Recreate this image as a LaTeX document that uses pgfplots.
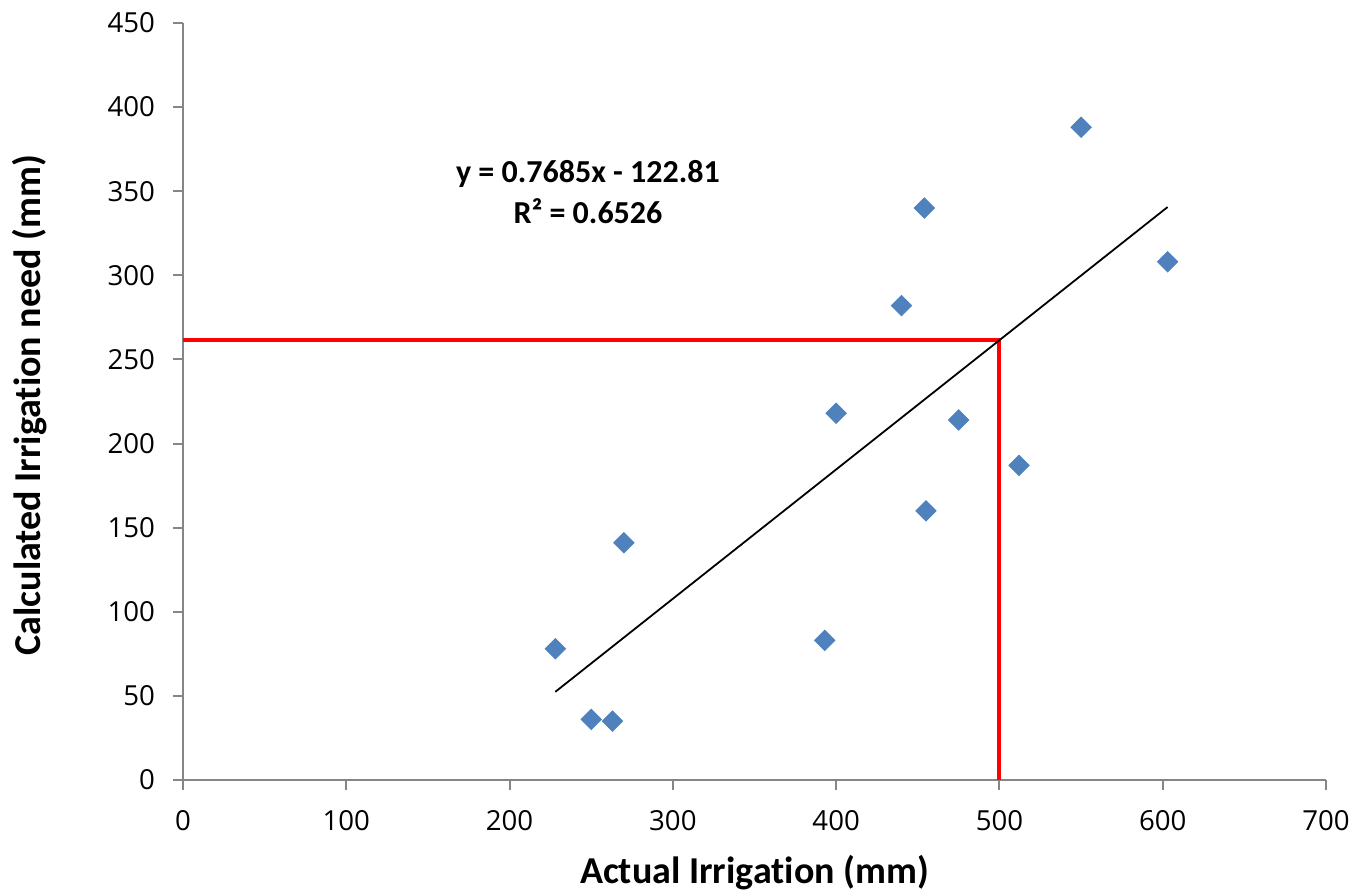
\documentclass[border=0pt]{standalone}
\usepackage{fontspec}
\setmainfont[Ligatures=NoCommon]{Carlito}
\newfontfamily\tickfont{Open Sans}
\usepackage{pgfplots}
\pgfplotsset{compat=1.18}
\definecolor{axgray}{RGB}{134,134,134}
\definecolor{mblue}{RGB}{79,129,189}
\begin{document}
\begin{tikzpicture}
\begin{axis}[
  at={(0,0)}, anchor=south west,
  scale only axis,
  width=571.5pt, height=378.5pt,
  xmin=0, xmax=700, ymin=0, ymax=450,
  xtick={0,100,...,700}, ytick={0,50,...,450},
  axis x line*=bottom, axis y line*=left,
  axis line style={axgray, line width=1pt, -},
  tick style={axgray, line width=1pt},
  major tick length=5pt, tick align=outside,
  tick label style={font=\fontsize{13.8}{16}\tickfont},
  xticklabel style={yshift=-6.5pt},
  yticklabel style={xshift=-5.5pt},
  /pgf/number format/assume math mode=true,
  xlabel={\bfseries Actual Irrigation (mm)},
  ylabel={\bfseries Calculated Irrigation need (mm)},
  label style={font=\fontsize{19}{22}\selectfont},
  xlabel style={at={(axis description cs:0.5,-0.123)}, anchor=center},
  ylabel style={at={(axis description cs:-0.134,0.495)}, anchor=center, rotate=0},
  clip=false,
]
\addplot[red, line width=2pt] coordinates {(0,261.4) (499.5,261.4) (499.5,0)};
\addplot[black, line width=0.9pt] coordinates {(228,52.4) (603,340.6)};
\addplot[only marks, mark=square*, mark size=3.6pt, mark options={rotate=45, fill=mblue, draw=mblue}] coordinates {
(228,78) (250,36) (263,35) (270,141) (393,83) (400,218) (440,282) (454,340) (455,160) (475,214) (512,187) (550,388) (603,308)
};
\node[align=center, font=\fontsize{16}{20.5}\selectfont\bfseries] at (axis cs:248,349.5) {y = 0.7685x - 122.81\\R² = 0.6526};
\end{axis}
\pgfresetboundingbox
\useasboundingbox (-91.5pt,-56.5pt) rectangle (585pt,390pt);
\end{tikzpicture}
\end{document}
